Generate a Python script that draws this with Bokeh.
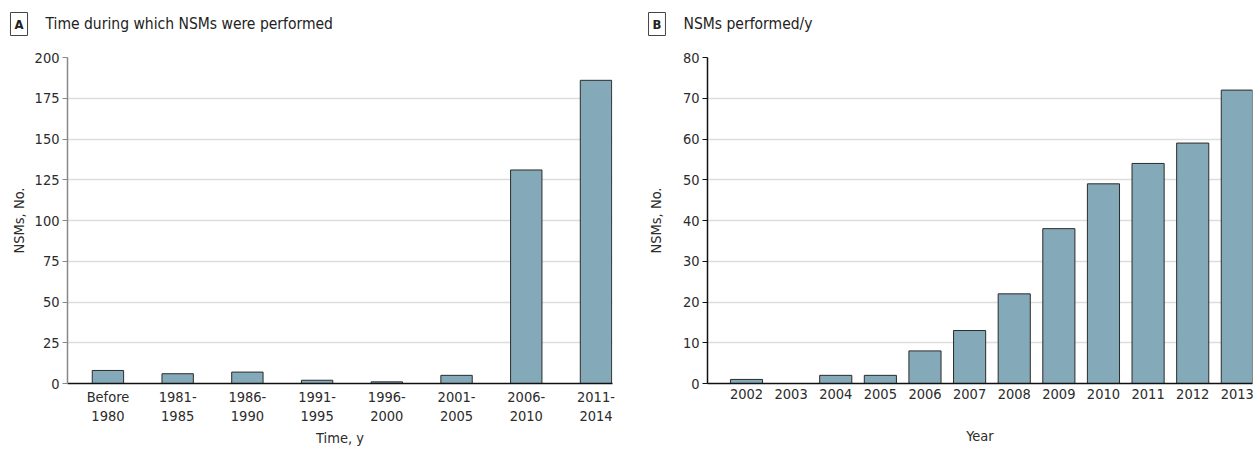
from bokeh.plotting import figure
from bokeh.layouts import row, column
from bokeh.models import Label, Range1d, FixedTicker
from bokeh.embed import file_html
from bokeh.resources import INLINE

# ---- data ----
periods = ["Before\n1980", "1981-\n1985", "1986-\n1990", "1991-\n1995",
           "1996-\n2000", "2001-\n2005", "2006-\n2010", "2011-\n2014"]
period_counts = [8, 6, 7, 2, 1, 5, 131, 186]

years = ["2002", "2003", "2004", "2005", "2006", "2007",
         "2008", "2009", "2010", "2011", "2012", "2013"]
year_counts = [1, 0, 2, 2, 8, 13, 22, 38, 49, 54, 59, 72]

left_ticks = [0, 25, 50, 75, 100, 125, 150, 175, 200]
right_ticks = [0, 10, 20, 30, 40, 50, 60, 70, 80]

FONT = "'DejaVu Sans Condensed', 'Roboto Condensed', 'Open Sans', sans-serif"
BAR = "#84a9b8"
TXT = "#2b2b2b"
HEAD_H = 49


def make_header(width, letter, title, box_cx, text_x):
    h = figure(frame_width=width, frame_height=HEAD_H, output_backend="svg",
               toolbar_location=None, x_axis_type=None, y_axis_type=None,
               x_range=Range1d(0, width), y_range=Range1d(0, HEAD_H),
               min_border=0)
    h.outline_line_color = None
    h.xgrid.grid_line_color = None
    h.ygrid.grid_line_color = None
    cy = HEAD_H - 23.5
    h.add_layout(Label(x=box_cx, y=cy, text=letter, text_font=FONT,
                       text_font_style="bold", text_font_size="13px",
                       text_color="#222222", text_baseline="middle",
                       text_align="center", padding=4,
                       border_line_color="#444444", border_line_width=1,
                       background_fill_color="white"))
    h.add_layout(Label(x=text_x, y=cy, text=title, text_font=FONT,
                       text_font_size="15.5px", text_color="#222222",
                       text_baseline="middle", text_align="left"))
    return h


def make_panel(labels, counts, yticks, ymax, xstart, xend, bar_w,
               border_left, border_right, yaxis_color, ylabel_standoff,
               xlabel, xlabel_standoff):
    idx = list(range(len(labels)))
    p = figure(frame_width=545, frame_height=326, output_backend="svg",
               toolbar_location=None,
               x_range=Range1d(xstart, xend), y_range=Range1d(0, ymax),
               min_border_left=border_left, min_border_right=border_right,
               min_border_top=57 - HEAD_H, min_border_bottom=62)
    p.outline_line_color = None
    p.vbar(x=idx, top=counts, width=bar_w, fill_color=BAR,
           line_color="#2b2b2b", line_width=1)

    # y axis
    ya = p.yaxis[0]
    ya.ticker = FixedTicker(ticks=yticks)
    ya.minor_tick_line_color = None
    ya.major_tick_out = 5
    ya.major_tick_in = 0
    ya.axis_line_color = yaxis_color
    ya.axis_line_width = 1.5
    ya.major_tick_line_color = yaxis_color
    ya.major_label_text_font = FONT
    ya.major_label_text_font_size = "14.5px"
    ya.major_label_text_color = TXT
    ya.major_label_standoff = 3
    ya.axis_label = "NSMs, No."
    ya.axis_label_text_font = FONT
    ya.axis_label_text_font_style = "normal"
    ya.axis_label_text_font_size = "14.5px"
    ya.axis_label_text_color = TXT
    ya.axis_label_standoff = ylabel_standoff

    # x axis
    xa = p.xaxis[0]
    xa.ticker = FixedTicker(ticks=idx)
    xa.major_label_overrides = {i: l for i, l in zip(idx, labels)}
    xa.major_tick_line_color = None
    xa.major_tick_out = 0
    xa.major_tick_in = 0
    xa.minor_tick_line_color = None
    xa.axis_line_color = "#111111"
    xa.axis_line_width = 1.5
    xa.major_label_text_font = FONT
    xa.major_label_text_font_size = "14.5px"
    xa.major_label_text_color = TXT
    xa.major_label_standoff = 5
    xa.axis_label = xlabel
    xa.axis_label_text_font = FONT
    xa.axis_label_text_font_style = "normal"
    xa.axis_label_text_font_size = "14.5px"
    xa.axis_label_text_color = TXT
    xa.axis_label_standoff = xlabel_standoff

    p.xgrid.grid_line_color = None
    p.ygrid.grid_line_color = "#dddddd"
    p.ygrid.grid_line_width = 1.5
    p.ygrid.ticker = FixedTicker(ticks=yticks)
    return p


p1 = make_panel(periods, period_counts, left_ticks, 200,
                -0.58, 7.237, 0.45, 67, 24, "#888888", 5, "Time, y", 3)
p2 = make_panel(years, year_counts, right_ticks, 80,
                -0.874, 11.34, 0.72, 71, 4, "#111111", 16, "Year", 26)

h1 = make_header(67 + 545 + 24, "A", "Time during which NSMs were performed",
                 18.5, 45)
h2 = make_header(71 + 545 + 4, "B", "NSMs performed/y", 20.5, 47)

layout = column(row(h1, h2), row(p1, p2))
open("out.html", "w").write(file_html(layout, INLINE))
